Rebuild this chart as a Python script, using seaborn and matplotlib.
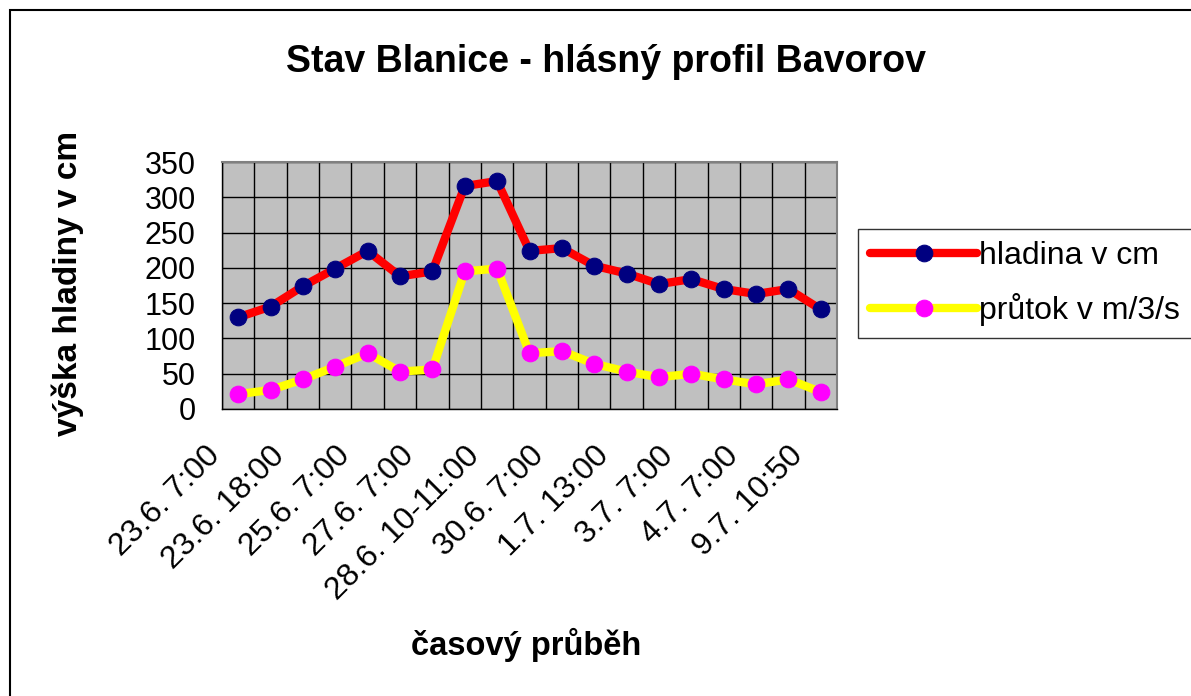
import matplotlib
matplotlib.use("Agg")
import matplotlib.pyplot as plt
import matplotlib.transforms as mtransforms
import seaborn as sns
import numpy as np
import pandas as pd
from matplotlib.patches import Rectangle

# ---- data ----
hladina = [130, 145, 174, 199, 224, 188, 195, 316, 323, 224, 228, 203, 192, 177, 184, 170, 163, 170, 141]
prutok = [21, 27, 42, 60, 79, 53, 56, 195, 199, 79, 82, 64, 53, 45, 50, 42, 35, 42, 24]
tick_labels = ["23.6. 7:00", "23.6. 18:00", "25.6. 7:00", "27.6. 7:00", "28.6. 10-11:00",
               "30.6. 7:00", "1.7. 13:00", "3.7. 7:00", "4.7. 7:00", "9.7. 10:50"]
series_names = ["hladina v cm", "průtok v m/3/s"]
title = "Stav Blanice - hlásný profil Bavorov"
xlabel = "časový průběh"
ylabel = "výška hladiny v cm"

sns.set_style("white")
plt.rcParams['font.family'] = ['Liberation Sans', 'DejaVu Sans']
plt.rcParams['text.color'] = 'black'
plt.rcParams['xtick.color'] = 'black'
plt.rcParams['ytick.color'] = 'black'
plt.rcParams['axes.labelcolor'] = 'black'

x = np.arange(len(hladina))
df = pd.DataFrame({"x": np.concatenate([x, x]),
                   "value": hladina + prutok,
                   "series": [series_names[0]] * len(x) + [series_names[1]] * len(x)})

fig = plt.figure(figsize=(11.91, 6.96), dpi=100)
W, H = 1191, 696
ax = fig.add_axes([222 / W, 1 - 409 / H, (837 - 222) / W, (409 - 162) / H])
ax.set_facecolor("#C0C0C0")

line_colors = {series_names[0]: "#FF0000", series_names[1]: "#FFFF00"}
marker_colors = {series_names[0]: "#000080", series_names[1]: "#FF00FF"}
for name in series_names:
    sub = df[df["series"] == name]
    sns.lineplot(data=sub, x="x", y="value", ax=ax, color=line_colors[name], lw=6,
                 marker="o", markersize=12, markerfacecolor=marker_colors[name],
                 markeredgecolor=marker_colors[name], label=name, solid_capstyle="round",
                 zorder=3)

ax.set_xlim(-0.5, len(x) - 0.5)
ax.set_ylim(0, 350)
ax.set_yticks(np.arange(0, 351, 50))
ax.set_xticks(np.arange(0, len(x), 2))
ax.set_xticklabels(tick_labels, rotation=45, ha="right", rotation_mode="anchor")
ax.set_xticks(np.arange(-0.5, len(x), 1), minor=True)
ax.tick_params(axis="x", which="major", length=0, pad=23, labelsize=23)
ax.tick_params(axis="x", which="minor", length=7, width=1, color="black", direction="out")
ax.tick_params(axis="y", which="major", length=7, width=1, color="black", direction="out",
               labelsize=22, pad=12)
offset = mtransforms.ScaledTranslation(-33 / 100, 0, fig.dpi_scale_trans)
for lab in ax.get_xticklabels():
    lab.set_transform(lab.get_transform() + offset)
ax.grid(False)
ax.grid(True, axis="y", which="major", color="black", lw=1)
ax.grid(True, axis="x", which="minor", color="black", lw=1)
ax.set_axisbelow(True)
for s in ["top", "right"]:
    ax.spines[s].set_color("#808080")
    ax.spines[s].set_linewidth(1.5)
for s in ["left", "bottom"]:
    ax.spines[s].set_color("black")
    ax.spines[s].set_linewidth(1)
ax.set_xlabel("")
ax.set_ylabel("")

leg = ax.legend(loc="upper left", bbox_to_anchor=(858 / W, 1 - 229 / H),
                bbox_transform=fig.transFigure, frameon=True, fancybox=False,
                fontsize=23, handlelength=3.35, handletextpad=0.05, borderpad=0.38,
                labelspacing=0.68, borderaxespad=0)
leg.get_frame().set_edgecolor("black")
leg.get_frame().set_linewidth(1)

fig.text(606 / W, 1 - 62 / H, title, ha="center", va="center", fontsize=27, fontweight="bold")
fig.text(526 / W, 1 - 645 / H, xlabel, ha="center", va="center", fontsize=23.5, fontweight="bold")
fig.text(68 / W, 1 - 283 / H, ylabel, ha="center", va="center", rotation=90, fontsize=24,
         fontweight="bold")

fig.patches.append(Rectangle((10 / W, -0.1), 1.2, 1 - 10 / H + 0.1, transform=fig.transFigure,
                             fill=False, edgecolor="black", lw=1.5))

fig.savefig("out.png", dpi=100, facecolor="white")
